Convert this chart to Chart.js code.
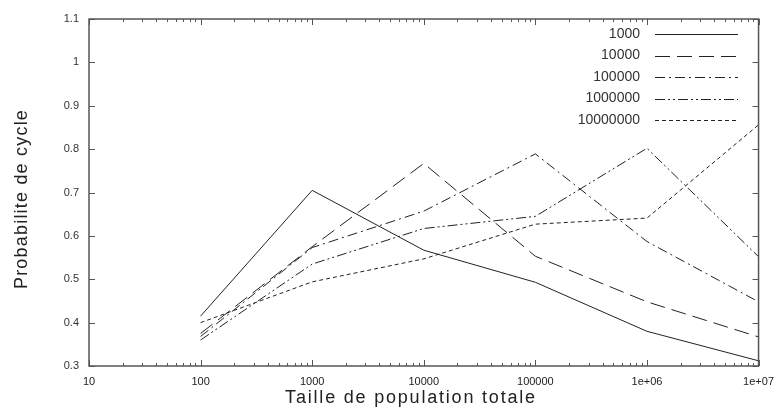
<!DOCTYPE html>
<html><head><meta charset="utf-8">
<script src="https://cdn.jsdelivr.net/npm/chart.js@4/dist/chart.umd.min.js"></script>
<style>html,body{margin:0;padding:0;background:#fff}#wrap{width:783px;height:410px;position:relative}</style>
</head><body><div id="wrap"><canvas id="c" width="783" height="410"></canvas></div>
<script>
// ---- data ----
const populations = [100, 1000, 10000, 100000, 1000000, 10000000];
const seriesLabels = ['1000', '10000', '100000', '1000000', '10000000'];
const s1000     = [0.415, 0.705, 0.567, 0.493, 0.380, 0.312];
const s10000    = [0.375, 0.575, 0.767, 0.553, 0.448, 0.367];
const s100000   = [0.368, 0.573, 0.657, 0.789, 0.587, 0.448];
const s1000000  = [0.360, 0.535, 0.617, 0.645, 0.802, 0.552];
const s10000000 = [0.400, 0.494, 0.547, 0.627, 0.641, 0.856];
const xTickValues = [10, 100, 1000, 10000, 100000, 1000000, 10000000];
const xTickLabels = ['10', '100', '1000', '10000', '100000', '1e+06', '1e+07'];
const yTickValues = [0.3, 0.4, 0.5, 0.6, 0.7, 0.8, 0.9, 1.0, 1.1];
const yTickLabels = ['0.3', '0.4', '0.5', '0.6', '0.7', '0.8', '0.9', '1', '1.1'];
const xTitle = 'Taille de population totale';
const yTitle = 'Probabilite de cycle';

const seriesValues = [s1000, s10000, s100000, s1000000, s10000000];
const dashes = [[], [15, 7], [10, 4, 2, 4], [10, 3, 2, 3, 2, 3], [4, 3]];

const datasets = seriesLabels.map((lab, i) => ({
  label: lab,
  data: populations.map((p, j) => ({x: p, y: seriesValues[i][j]})),
  borderColor: '#222',
  borderWidth: 1,
  borderDash: dashes[i],
  pointRadius: 0,
  fill: false,
  tension: 0
}));

const frameTicks = {
  id: 'frameTicks',
  afterDraw(chart) {
    const ctx = chart.ctx, a = chart.chartArea;
    const xs = chart.scales.x, ys = chart.scales.y;
    ctx.save();
    ctx.strokeStyle = '#555';
    ctx.lineWidth = 1.5;
    ctx.setLineDash([]);
    ctx.strokeRect(a.left, a.top, a.right - a.left, a.bottom - a.top);
    ctx.lineWidth = 1;
    ctx.beginPath();
    for (let d = 10; d < 1e7; d *= 10) {
      for (let k = 1; k <= 10; k++) {
        const v = d * k;
        if (v > 1e7) break;
        const px = Math.round(xs.getPixelForValue(v)) + 0.5;
        const len = (k === 1 || k === 10) ? 6 : 3;
        ctx.moveTo(px, a.bottom); ctx.lineTo(px, a.bottom - len);
        ctx.moveTo(px, a.top); ctx.lineTo(px, a.top + len);
      }
    }
    yTickValues.forEach(v => {
      const py = Math.round(ys.getPixelForValue(v)) + 0.5;
      ctx.moveTo(a.left, py); ctx.lineTo(a.left + 6, py);
      ctx.moveTo(a.right, py); ctx.lineTo(a.right - 6, py);
    });
    ctx.stroke();

    // axis titles
    ctx.fillStyle = '#222';
    ctx.font = '18px "Liberation Sans", Arial, sans-serif';
    ctx.textAlign = 'center';
    ctx.textBaseline = 'middle';
    ctx.letterSpacing = '1.8px';
    ctx.fillText(xTitle, 411, 398);
    ctx.save();
    ctx.translate(22, 199);
    ctx.rotate(-Math.PI / 2);
    ctx.letterSpacing = '1.2px';
    ctx.fillText(yTitle, 0, 0);
    ctx.restore();
    ctx.restore();
  }
};

const textLegend = {
  id: 'textLegend',
  afterDraw(chart) {
    const ctx = chart.ctx;
    ctx.save();
    ctx.font = '14px "Liberation Sans", Arial, sans-serif';
    ctx.fillStyle = '#333';
    ctx.textAlign = 'right';
    ctx.textBaseline = 'middle';
    chart.data.datasets.forEach((ds, i) => {
      const y = 34 + i * 21.5;
      ctx.fillText(ds.label, 640, y);
      ctx.strokeStyle = '#222';
      ctx.lineWidth = 1;
      ctx.setLineDash(ds.borderDash || []);
      ctx.beginPath();
      ctx.moveTo(655, Math.round(y) + 0.5);
      ctx.lineTo(738, Math.round(y) + 0.5);
      ctx.stroke();
    });
    ctx.restore();
  }
};

new Chart(document.getElementById('c'), {
  type: 'line',
  data: {datasets},
  options: {
    responsive: false,
    animation: false,
    devicePixelRatio: 1,
    layout: {padding: {top: 19, right: 19, left: 0, bottom: 0}},
    plugins: {legend: {display: false}, tooltip: {enabled: false}},
    scales: {
      x: {
        type: 'logarithmic',
        min: 10, max: 10000000,
        afterFit: s => { s.height = 44; },
        afterBuildTicks: s => { s.ticks = xTickValues.map(v => ({value: v})); },
        grid: {display: false, drawTicks: false},
        border: {display: false},
        ticks: {
          autoSkip: false, maxRotation: 0, padding: 9,
          color: '#222',
          font: {family: '"Liberation Sans Narrow", "Liberation Sans", Arial', size: 11},
          callback: (v) => { const i = xTickValues.indexOf(v); return i >= 0 ? xTickLabels[i] : ''; }
        },
        title: {display: false}
      },
      y: {
        min: 0.3, max: 1.1,
        afterFit: s => { s.width = 89; },
        afterBuildTicks: s => { s.ticks = yTickValues.map(v => ({value: v})); },
        grid: {display: false, drawTicks: false},
        border: {display: false},
        ticks: {
          padding: 10, color: '#333',
          font: {family: '"Liberation Sans", Arial', size: 11},
          callback: (v) => { const i = yTickValues.findIndex(t => Math.abs(t - v) < 1e-9); return i >= 0 ? yTickLabels[i] : ''; }
        },
        title: {display: false}
      }
    }
  },
  plugins: [frameTicks, textLegend]
});
</script></body></html>
